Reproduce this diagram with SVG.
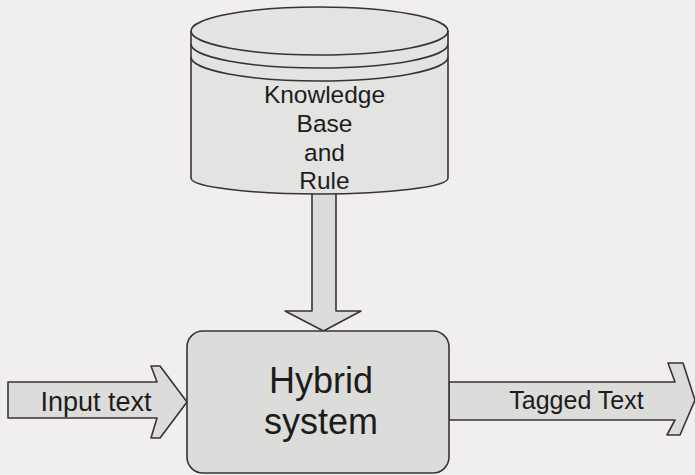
<svg xmlns="http://www.w3.org/2000/svg" width="695" height="475" viewBox="0 0 695 475">
  <style>
    .shape { stroke: #3a3232; stroke-width: 1.6; stroke-linejoin: round; }
    .fill-light { fill: #e3e3e1; }
    .fill-mid { fill: #dcdcda; }
    .label { font-family: "Liberation Sans", Arial, sans-serif; fill: #1c1c1c; text-anchor: middle; }
  </style>
  <rect width="695" height="475" fill="#f0efed"/>

  <g id="connectors">
    <!-- knowledge base feeds the hybrid system -->
    <polygon id="arrow-kb" class="shape fill-mid" points="312,190 336,190 336,311 361,311 323.5,331 285,311 312,311"/>
    <!-- input text into the system -->
    <polygon id="arrow-input" class="shape fill-mid" points="8,382 157,382 151,366 160,366 187,402 160,438 151,438 157,418 8,418"/>
    <!-- tagged text out of the system -->
    <polygon id="arrow-output" class="shape fill-mid" points="449,382 675,382 668,363 683,363 695,400 680,435 667,435 675,420 449,420"/>
  </g>

  <g id="knowledge-base">
    <path class="shape fill-light" d="M191,31 A128.5,24 0 0 1 448,31 L448,178 A128.5,16 0 0 1 191,178 Z"/>
    <path class="shape" fill="none" d="M191,31 A128.5,24 0 0 0 448,31"/>
    <path class="shape" fill="none" d="M191,44 A128.5,24 0 0 0 448,44"/>
    <path class="shape" fill="none" d="M191,57 A128.5,24 0 0 0 448,57"/>
    <text class="label" font-size="24.5" x="324.5" y="103">Knowledge</text>
    <text class="label" font-size="24.5" x="324.5" y="132">Base</text>
    <text class="label" font-size="24.5" x="324.5" y="161">and</text>
    <text class="label" font-size="24.5" x="324.5" y="189">Rule</text>
  </g>

  <g id="hybrid-system">
    <rect class="shape fill-mid" x="187" y="331" width="262" height="142" rx="16"/>
    <text class="label" font-size="36" x="321" y="393">Hybrid</text>
    <text class="label" font-size="36" x="321" y="434">system</text>
  </g>

  <g id="input-text">
    <text class="label" font-size="27" x="96" y="411">Input text</text>
  </g>

  <g id="tagged-text">
    <text class="label" font-size="25" x="576.5" y="409">Tagged Text</text>
  </g>
</svg>
